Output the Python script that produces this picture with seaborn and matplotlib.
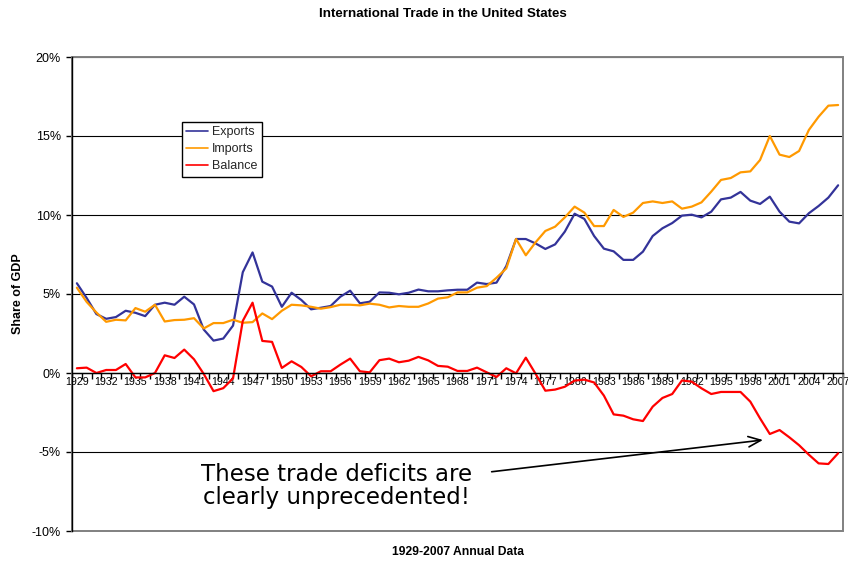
import matplotlib
matplotlib.use("Agg")
import matplotlib.pyplot as plt
import numpy as np
import pandas as pd
import seaborn as sns
from matplotlib.patches import Rectangle
from matplotlib.ticker import FixedLocator, FuncFormatter

# ---------------- data ----------------
years = list(range(1929, 2008))

exports = [5.68, 4.75, 3.73, 3.43, 3.54, 3.94, 3.81, 3.60, 4.32, 4.45,
           4.32, 4.83, 4.34, 2.75, 2.05, 2.18, 3.00, 6.38, 7.63, 5.78,
           5.47, 4.19, 5.08, 4.62, 4.03, 4.13, 4.24, 4.83, 5.21, 4.41,
           4.51, 5.10, 5.08, 4.98, 5.08, 5.28, 5.17, 5.17, 5.23, 5.27,
           5.27, 5.72, 5.63, 5.72, 6.77, 8.48, 8.48, 8.20, 7.85, 8.14,
           8.95, 10.08, 9.75, 8.67, 7.87, 7.70, 7.16, 7.16, 7.68, 8.67,
           9.16, 9.49, 9.96, 10.02, 9.85, 10.21, 10.99, 11.10, 11.46, 10.91,
           10.70, 11.16, 10.21, 9.58, 9.47, 10.11, 10.57, 11.10, 11.88]

imports = [5.40, 4.50, 3.83, 3.24, 3.37, 3.33, 4.11, 3.88, 4.32, 3.26,
           3.35, 3.37, 3.47, 2.82, 3.16, 3.16, 3.37, 3.18, 3.22, 3.77,
           3.41, 3.94, 4.32, 4.28, 4.19, 4.07, 4.17, 4.32, 4.32, 4.28,
           4.39, 4.32, 4.15, 4.24, 4.19, 4.19, 4.40, 4.71, 4.79, 5.10,
           5.10, 5.40, 5.50, 6.03, 6.62, 8.48, 7.45, 8.27, 8.99, 9.26,
           9.85, 10.53, 10.15, 9.30, 9.30, 10.32, 9.88, 10.15, 10.76, 10.86,
           10.76, 10.86, 10.40, 10.53, 10.80, 11.48, 12.22, 12.34, 12.70, 12.76,
           13.48, 15.00, 13.82, 13.67, 14.05, 15.38, 16.22, 16.92, 16.96]

balance = [0.30, 0.34, 0.00, 0.19, 0.19, 0.57, -0.28, -0.28, 0.00, 1.12,
           0.95, 1.48, 0.87, -0.06, -1.15, -0.96, -0.34, 3.30, 4.45, 2.03,
           1.97, 0.32, 0.74, 0.38, -0.21, 0.11, 0.11, 0.53, 0.91, 0.11,
           0.04, 0.81, 0.91, 0.68, 0.78, 1.02, 0.80, 0.45, 0.40, 0.13,
           0.13, 0.34, 0.04, -0.25, 0.30, -0.02, 0.97, -0.05, -1.12, -1.05,
           -0.87, -0.48, -0.42, -0.60, -1.43, -2.62, -2.70, -2.93, -3.04, -2.13,
           -1.58, -1.33, -0.47, -0.55, -0.97, -1.33, -1.20, -1.20, -1.20, -1.81,
           -2.87, -3.86, -3.61, -4.07, -4.57, -5.17, -5.72, -5.76, -5.08]

series_names = ["Exports", "Imports", "Balance"]
series_colors = ["#333399", "#FF9900", "#FF0000"]
tick_years = list(range(1929, 2008, 3))
y_ticks = [-10, -5, 0, 5, 10, 15, 20]

title = "International Trade in the United States"
x_title = "1929-2007 Annual Data"
y_title = "Share of GDP"
note = "These trade deficits are\nclearly unprecedented!"

assert len(exports) == len(imports) == len(balance) == len(years)

df = pd.DataFrame({
    "Year": years * 3,
    "Share": exports + imports + balance,
    "Series": [n for n in series_names for _ in years],
})

# ---------------- style ----------------
sns.set_theme(style="white")
plt.rcParams["font.family"] = ["Liberation Sans", "DejaVu Sans"]

W, H = 848, 561
fig = plt.figure(figsize=(W / 100, H / 100), dpi=100)
L, R, T, B = 72, 843, 57, 531
ax = fig.add_axes([L / W, 1 - B / H, (R - L) / W, (B - T) / H])

sns.lineplot(data=df, x="Year", y="Share", hue="Series",
             hue_order=series_names,
             palette=dict(zip(series_names, series_colors)),
             linewidth=1.6, errorbar=None, ax=ax, legend="brief")

ax.set_xlim(years[0] - 0.5, years[-1] + 0.5)
ax.set_ylim(y_ticks[0], y_ticks[-1])

# grid
ax.set_yticks(y_ticks)
ax.yaxis.set_major_formatter(FuncFormatter(lambda v, p: f"{int(v)}%"))
ax.grid(axis="y", color="black", linewidth=0.8)
ax.grid(axis="x", visible=False)

# spines: left black, bottom axis at zero, gray frame
for s in ["top", "right"]:
    ax.spines[s].set_visible(False)
ax.spines["left"].set_color("black")
ax.spines["left"].set_linewidth(1.0)
ax.spines["bottom"].set_position(("data", 0))
ax.spines["bottom"].set_color("black")
ax.spines["bottom"].set_linewidth(1.0)
frame = Rectangle((0, 0), 1, 1, transform=ax.transAxes, fill=False,
                  edgecolor="#808080", linewidth=1.4, zorder=2.2, clip_on=False)
ax.add_patch(frame)

# x ticks
ax.xaxis.set_major_locator(FixedLocator(tick_years))
ax.xaxis.set_minor_locator(FixedLocator(np.arange(years[0] - 0.5, years[-1] + 1, 1)))
ax.set_xticklabels([str(y) for y in tick_years])
ax.tick_params(axis="x", which="major", bottom=True, length=0, pad=3,
               labelsize=7.7, colors="black")
ax.tick_params(axis="x", which="minor", bottom=True, length=4, width=1,
               color="black", direction="out")
ax.tick_params(axis="y", which="major", left=True, length=4, width=1,
               color="black", labelsize=9, pad=4, labelcolor="black")

# labels
ax.set_xlabel(x_title, fontsize=8.7, fontweight="bold", color="black")
ax.xaxis.set_label_coords(0.5, -0.031)
ax.set_ylabel(y_title, fontsize=9, fontweight="bold", color="black")
ax.yaxis.set_label_coords(-0.062, 0.5)
fig.text(443 / W, 1 - 14 / H, title, ha="center", va="center",
         fontsize=9.6, fontweight="bold", color="black")

# legend
handles, labels = ax.get_legend_handles_labels()
leg = ax.legend(handles, labels, loc="upper left",
                bbox_to_anchor=((182 - L) / (R - L), 1 - (122 - T) / (B - T)),
                borderaxespad=0, frameon=True, fancybox=False, fontsize=9,
                handlelength=1.75, handletextpad=0.3, labelspacing=0.4,
                borderpad=0.35, edgecolor="black", framealpha=1)
leg.get_frame().set_linewidth(1.0)
for h in leg.get_lines():
    h.set_linewidth(1.2)

# annotation
ax.annotate("", xy=(1999.3, -4.24), xytext=(1971.5, -6.25),
            arrowprops=dict(arrowstyle="->,head_length=0.6,head_width=0.25",
                            color="black", lw=1.2, shrinkA=0, shrinkB=0,
                            mutation_scale=15))
ax.text(1955.6, -7.15, note, ha="center", va="center", fontsize=16.5,
        family="DejaVu Sans", linespacing=0.95, color="black")

fig.savefig("out.png", dpi=100, facecolor="white")
